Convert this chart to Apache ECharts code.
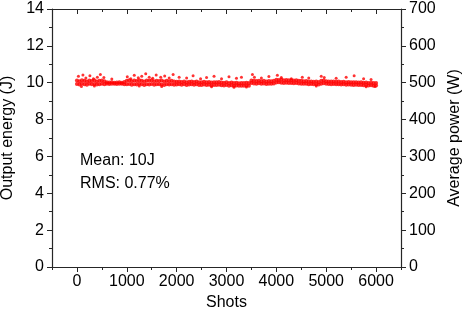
<!DOCTYPE html>
<html>
<head>
<meta charset="utf-8">
<script src="https://cdn.jsdelivr.net/npm/echarts@6/dist/echarts.min.js"></script>
<style>
  html, body { margin: 0; padding: 0; background: #fff; }
  #chart { width: 464px; height: 314px; }
</style>
</head>
<body>
<div id="chart"></div>
<script>
// shots sampled every 50, upper and lower edges of the dense band (J)
const shotStep = 50;
const bandUpper = [
  10.12, 10.08, 10.14, 10.10, 10.06, 10.12, 10.09, 10.13, 10.07, 10.10, 10.12, 10.08,
  10.03, 10.01, 10.02, 10.00, 10.01, 10.02, 10.00, 10.04,
  10.10, 10.13, 10.08, 10.12, 10.09, 10.14, 10.11, 10.07, 10.12, 10.10,
  10.13, 10.08, 10.11, 10.09, 10.12, 10.07, 10.10, 10.08, 10.11, 10.06,
  10.05, 10.07, 10.04, 10.06, 10.03, 10.05, 10.07, 10.04, 10.06, 10.03,
  10.03, 10.05, 10.02, 10.04, 10.01, 10.03, 10.02, 10.04, 10.01, 10.00,
  10.02, 9.99, 10.01, 9.98, 10.00, 9.97, 9.99, 9.98, 10.00, 9.99,
  10.12, 10.10, 10.09, 10.11, 10.08, 10.10, 10.07, 10.09, 10.08, 10.10,
  10.16, 10.15, 10.17, 10.14, 10.15, 10.13, 10.14, 10.12, 10.13, 10.11,
  10.10, 10.08, 10.09, 10.06, 10.07, 10.05, 10.06, 10.04, 10.10, 10.12,
  10.08, 10.07, 10.06, 10.07, 10.05, 10.06, 10.04, 10.05, 10.03, 10.04,
  10.03, 10.02, 10.03, 10.01, 10.02, 10.00, 10.01, 9.99, 10.00, 9.98, 9.99
];
const bandLower = [
  9.93, 9.90, 9.95, 9.92, 9.89, 9.94, 9.91, 9.93, 9.90, 9.92, 9.95, 9.91,
  9.94, 9.93, 9.95, 9.94, 9.93, 9.95, 9.94, 9.92,
  9.91, 9.93, 9.89, 9.92, 9.90, 9.94, 9.91, 9.88, 9.92, 9.90,
  9.93, 9.89, 9.91, 9.92, 9.90, 9.88, 9.91, 9.90, 9.92, 9.89,
  9.90, 9.92, 9.89, 9.91, 9.88, 9.90, 9.92, 9.89, 9.91, 9.88,
  9.88, 9.90, 9.87, 9.89, 9.86, 9.88, 9.87, 9.89, 9.86, 9.85,
  9.87, 9.84, 9.86, 9.83, 9.85, 9.83, 9.84, 9.83, 9.85, 9.84,
  9.98, 9.96, 9.95, 9.97, 9.94, 9.96, 9.93, 9.95, 9.94, 9.96,
  10.01, 10.02, 10.00, 9.99, 10.00, 9.98, 9.99, 9.97, 9.98, 9.96,
  9.95, 9.94, 9.95, 9.92, 9.93, 9.91, 9.92, 9.90, 9.95, 9.97,
  9.94, 9.93, 9.92, 9.93, 9.91, 9.92, 9.90, 9.91, 9.89, 9.90,
  9.89, 9.88, 9.89, 9.87, 9.88, 9.86, 9.87, 9.85, 9.86, 9.84, 9.85
];
// scattered shots outside the band [shot, J]
const outliers = [
  [30, 10.35], [120, 10.42], [180, 10.25], [260, 10.38], [330, 10.22], [410, 10.30],
  [470, 10.45], [540, 10.28], [700, 10.20], [1010, 10.33], [1080, 10.22], [1150, 10.40],
  [1230, 10.27], [1300, 10.35], [1380, 10.48], [1450, 10.30], [1520, 10.24], [1590, 10.42],
  [1680, 10.29], [1760, 10.36], [1850, 10.25], [1930, 10.44], [2050, 10.30], [2200, 10.26],
  [2330, 10.38], [2480, 10.22], [2600, 10.28], [2750, 10.35], [2900, 10.21], [3050, 10.32],
  [3200, 10.24], [3300, 10.30], [3520, 10.45], [3560, 10.30], [3700, 10.26], [3850, 10.34],
  [4020, 10.40], [4100, 10.28], [4300, 10.22], [4520, 10.30], [4650, 10.25], [4900, 10.35],
  [4960, 10.28], [5200, 10.24], [5400, 10.30], [5560, 10.38], [5750, 10.22], [5900, 10.18],
  [90, 9.80], [350, 9.82], [1250, 9.82], [1700, 9.80], [2700, 9.78], [3150, 9.76],
  [3400, 9.77], [4800, 9.82], [5800, 9.78], [5980, 9.79]
];
const shotLabels = [0, 1000, 2000, 3000, 4000, 5000, 6000];
const notes = ['Mean: 10J', 'RMS: 0.77%'];

const font = 'Liberation Sans, Arial, sans-serif';
const ink = '#262626';

function toPairs(arr) {
  return arr.map(function (v, i) { return [i * shotStep, v]; });
}

const myChart = echarts.init(document.getElementById('chart'));

const xBase = {
  type: 'value',
  min: -500,
  max: 6500,
  interval: 500,
  splitLine: { show: false }
};

let options = {
  animation: false,
  backgroundColor: '#fff',
  textStyle: { fontFamily: font },
  grid: { left: 52, right: 63, top: 9, bottom: 47, containLabel: false, outerBoundsMode: 'none' },
  xAxis: [
    Object.assign({}, xBase, {
      position: 'bottom',
      name: 'Shots',
      nameLocation: 'middle',
      nameGap: 26,
      nameTextStyle: { fontSize: 16, color: '#000', fontFamily: font },
      axisLine: { onZero: false, lineStyle: { color: ink, width: 1.2 } },
      axisTick: { length: 3, lineStyle: { color: ink } },
      axisLabel: {
        customValues: shotLabels,
        formatter: function (v) { return String(v); },
        fontSize: 16, color: '#000', margin: 7, fontFamily: font
      }
    }),
    Object.assign({}, xBase, {
      position: 'bottom',
      axisLine: { show: false, onZero: false },
      axisTick: { customValues: shotLabels, length: 5, lineStyle: { color: ink } },
      axisLabel: { show: false }
    }),
    Object.assign({}, xBase, {
      position: 'top',
      axisLine: { onZero: false, lineStyle: { color: ink, width: 1.2 } },
      axisTick: { inside: true, length: 3, lineStyle: { color: ink } },
      axisLabel: { show: false }
    }),
    Object.assign({}, xBase, {
      position: 'top',
      axisLine: { show: false, onZero: false },
      axisTick: { customValues: shotLabels, inside: true, length: 5, lineStyle: { color: ink } },
      axisLabel: { show: false }
    })
  ],
  yAxis: [
    {
      type: 'value',
      min: 0,
      max: 14,
      interval: 2,
      position: 'left',
      name: 'Output energy (J)',
      nameLocation: 'middle',
      nameGap: 33,
      nameTextStyle: { fontSize: 16, color: '#000', fontFamily: font },
      splitLine: { show: false },
      axisLine: { show: true, onZero: false, lineStyle: { color: ink, width: 1.2 } },
      axisTick: { show: true, length: 5, lineStyle: { color: ink } },
      minorTick: { show: true, splitNumber: 2, length: 3, lineStyle: { color: ink } },
      axisLabel: { fontSize: 16, color: '#000', margin: 8, fontFamily: font }
    },
    {
      type: 'value',
      min: 0,
      max: 700,
      interval: 100,
      position: 'right',
      name: 'Average power (W)',
      nameLocation: 'middle',
      nameGap: 45,
      nameTextStyle: { fontSize: 16, color: '#000', fontFamily: font },
      splitLine: { show: false },
      axisLine: { show: true, onZero: false, lineStyle: { color: ink, width: 1.2 } },
      axisTick: { show: true, length: 5, lineStyle: { color: ink } },
      minorTick: { show: true, splitNumber: 2, length: 3, lineStyle: { color: ink } },
      axisLabel: { fontSize: 16, color: '#000', margin: 8, fontFamily: font }
    }
  ],
  graphic: [
    {
      type: 'text', left: 80, top: 153,
      style: { text: notes[0], fontSize: 16, fill: '#000', fontFamily: font }
    },
    {
      type: 'text', left: 80, top: 176,
      style: { text: notes[1], fontSize: 16, fill: '#000', fontFamily: font }
    }
  ],
  series: [
    {
      name: 'upper',
      type: 'scatter',
      symbolSize: 4,
      itemStyle: { color: '#ff0000' },
      data: toPairs(bandUpper)
    },
    {
      name: 'lower',
      type: 'scatter',
      symbolSize: 4,
      itemStyle: { color: '#ff0000' },
      data: toPairs(bandLower)
    },
    {
      name: 'outliers',
      type: 'scatter',
      symbolSize: 3,
      itemStyle: { color: '#ff0000' },
      data: outliers
    }
  ]
};

myChart.setOption(options);
</script>
</body>
</html>
